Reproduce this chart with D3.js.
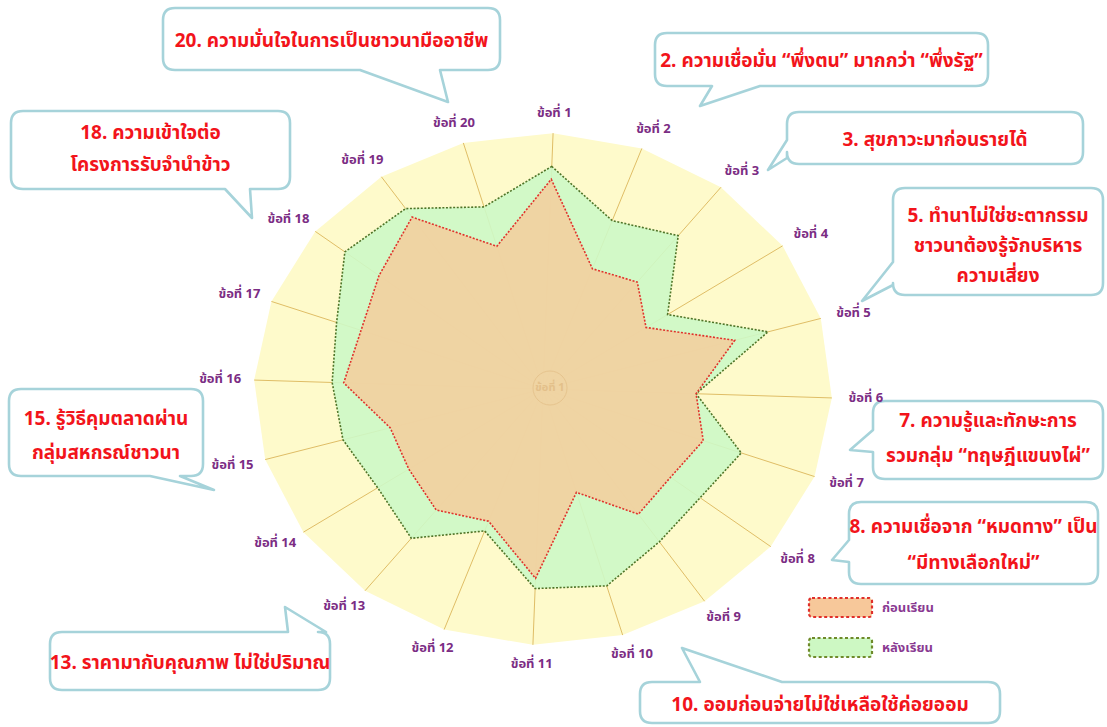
<!DOCTYPE html>
<html>
<head>
<meta charset="utf-8">
<script src="https://cdn.jsdelivr.net/npm/d3@7"></script>
<style>
    body { margin: 0; background: #fff; }
    svg { display: block; }
</style>
</head>
<body>
<svg id="chart"></svg>
<script>
const WIDTH = 1107;
const HEIGHT = 727;
const CENTER_X = 543;
const CENTER_Y = 389;
const RADIUS_X = 289;
const RADIUS_Y = 256;
const ROTATION = (2 * Math.PI) / 180;
const THAI_FONT = "'Noto Sans Thai', 'Loma', 'Garuda', 'Norasi', 'Tahoma', serif";

// one label per axis
const categories = d3.range(1, 21).map((n) => `ข้อที่ ${n}`);

// values, in percent of the outer ring
const beforeValues = [82, 50, 53, 43, 69, 53, 59, 56, 59, 42, 74, 55, 60, 56, 55, 69, 67, 72, 81, 58];
const afterValues = [87, 70, 76, 52, 81, 53, 73, 69, 72, 80, 78, 59, 74, 69, 72, 73, 76, 87, 85, 74];

const seriesNames = ['ก่อนเรียน', 'หลังเรียน'];

const calloutTexts = [
    ['20. ความมั่นใจในการเป็นชาวนามืออาชีพ'],
    ['2. ความเชื่อมั่น “พึ่งตน” มากกว่า “พึ่งรัฐ”'],
    ['3. สุขภาวะมาก่อนรายได้'],
    ['5. ทำนาไม่ใช่ชะตากรรม', 'ชาวนาต้องรู้จักบริหาร', 'ความเสี่ยง'],
    ['7. ความรู้และทักษะการ', 'รวมกลุ่ม “ทฤษฎีแขนงไผ่”'],
    ['8. ความเชื่อจาก “หมดทาง” เป็น', '“มีทางเลือกใหม่”'],
    ['10. ออมก่อนจ่ายไม่ใช่เหลือใช้ค่อยออม'],
    ['13. ราคามากับคุณภาพ ไม่ใช่ปริมาณ'],
    ['15. รู้วิธีคุมตลาดผ่าน', 'กลุ่มสหกรณ์ชาวนา'],
    ['18. ความเข้าใจต่อ', 'โครงการรับจำนำข้าว'],
];

// bubble layout: box, side of the tail, tail base along that side, tail tip
const calloutBoxes = [
    { x0: 163, y0: 8, x1: 500, y1: 70, side: 'bottom', b0: 360, b1: 440, tip: [448, 102], lineY: [42] },
    { x0: 655, y0: 33, x1: 988, y1: 86, side: 'bottom', b0: 712, b1: 760, tip: [700, 106], lineY: [62] },
    { x0: 787, y0: 112, x1: 1083, y1: 164, side: 'left', b0: 140, b1: 158, tip: [768, 170], lineY: [141] },
    { x0: 893, y0: 188, x1: 1103, y1: 295, side: 'left', b0: 262, b1: 285, tip: [862, 301], lineY: [217, 247, 277] },
    { x0: 873, y0: 401, x1: 1103, y1: 479, side: 'left', b0: 430, b1: 452, tip: [850, 450], lineY: [422, 457] },
    { x0: 849, y0: 502, x1: 1098, y1: 584, side: 'left', b0: 540, b1: 562, tip: [832, 560], lineY: [528, 564] },
    { x0: 640, y0: 682, x1: 1000, y1: 723, side: 'top', b0: 700, b1: 782, tip: [682, 648], lineY: [706] },
    { x0: 50, y0: 632, x1: 330, y1: 690, side: 'top', b0: 288, b1: 326, tip: [285, 607], lineY: [664] },
    { x0: 9, y0: 389, x1: 203, y1: 476, side: 'bottom', b0: 150, b1: 180, tip: [214, 490], lineY: [420, 454] },
    { x0: 11, y0: 111, x1: 290, y1: 189, side: 'bottom', b0: 225, b1: 250, tip: [252, 218], lineY: [134, 166] },
];

const svg = d3.select('#chart').attr('width', WIDTH).attr('height', HEIGHT);

const angle = d3
    .scaleLinear()
    .domain([0, categories.length])
    .range([ROTATION, ROTATION + 2 * Math.PI]);

const radius = d3.scaleLinear().domain([0, 100]).range([0, 1]);

const pointX = (i, v) => CENTER_X + radius(v) * RADIUS_X * Math.sin(angle(i));
const pointY = (i, v) => CENTER_Y - radius(v) * RADIUS_Y * Math.cos(angle(i));

const radarLine = d3
    .line()
    .x((d, i) => pointX(i, d))
    .y((d, i) => pointY(i, d))
    .curve(d3.curveLinearClosed);

function drawGrid() {
    const outer = categories.map(() => 100);
    svg.append('path')
        .attr('d', radarLine(outer))
        .attr('fill', '#fefacb');

    svg.append('g')
        .selectAll('line')
        .data(categories)
        .join('line')
        .attr('x1', CENTER_X)
        .attr('y1', CENTER_Y)
        .attr('x2', (d, i) => pointX(i, 100))
        .attr('y2', (d, i) => pointY(i, 100))
        .attr('stroke', '#dfbd66')
        .attr('stroke-width', 1);
}

function drawSeries(values, fill, stroke) {
    svg.append('path')
        .attr('d', radarLine(values))
        .attr('fill', fill)
        .attr('fill-opacity', 0.9)
        .attr('stroke', stroke)
        .attr('stroke-width', 1.6)
        .attr('stroke-dasharray', '2,1.6');
}

function drawAxisLabels() {
    svg.append('g')
        .selectAll('text')
        .data(categories)
        .join('text')
        .attr('x', (d, i) => CENTER_X + (RADIUS_X + 34) * Math.sin(angle(i)))
        .attr('y', (d, i) => CENTER_Y - (RADIUS_Y + 20) * Math.cos(angle(i)))
        .attr('text-anchor', 'middle')
        .attr('dominant-baseline', 'middle')
        .attr('font-family', THAI_FONT)
        .attr('font-weight', 'bold')
        .attr('font-size', 13)
        .attr('fill', '#7b2d84')
        .text((d) => d);

    // faint tag in the middle of the web
    svg.append('circle')
        .attr('cx', CENTER_X + 7)
        .attr('cy', CENTER_Y - 1)
        .attr('r', 17)
        .attr('fill', 'none')
        .attr('stroke', '#e6c48e')
        .attr('stroke-width', 1);
    svg.append('text')
        .attr('x', CENTER_X + 7)
        .attr('y', CENTER_Y - 1)
        .attr('text-anchor', 'middle')
        .attr('dominant-baseline', 'middle')
        .attr('font-family', THAI_FONT)
        .attr('font-weight', 'bold')
        .attr('font-size', 11)
        .attr('fill', '#e3c08a')
        .text(categories[0]);
}

function bubblePath(b) {
    const r = 12;
    const { x0, y0, x1, y1, side, b0, b1, tip } = b;
    const p = d3.path();
    p.moveTo(x0 + r, y0);
    if (side === 'top') {
        p.lineTo(b0, y0);
        p.lineTo(tip[0], tip[1]);
        p.lineTo(b1, y0);
    }
    p.lineTo(x1 - r, y0);
    p.quadraticCurveTo(x1, y0, x1, y0 + r);
    if (side === 'right') {
        p.lineTo(x1, b0);
        p.lineTo(tip[0], tip[1]);
        p.lineTo(x1, b1);
    }
    p.lineTo(x1, y1 - r);
    p.quadraticCurveTo(x1, y1, x1 - r, y1);
    if (side === 'bottom') {
        p.lineTo(b1, y1);
        p.lineTo(tip[0], tip[1]);
        p.lineTo(b0, y1);
    }
    p.lineTo(x0 + r, y1);
    p.quadraticCurveTo(x0, y1, x0, y1 - r);
    if (side === 'left') {
        p.lineTo(x0, b1);
        p.lineTo(tip[0], tip[1]);
        p.lineTo(x0, b0);
    }
    p.lineTo(x0, y0 + r);
    p.quadraticCurveTo(x0, y0, x0 + r, y0);
    p.closePath();
    return p.toString();
}

function drawCallouts() {
    const g = svg.append('g')
        .selectAll('g')
        .data(calloutBoxes)
        .join('g');

    g.append('path')
        .attr('d', bubblePath)
        .attr('fill', '#fff')
        .attr('stroke', '#a6d3da')
        .attr('stroke-width', 2.6)
        .attr('stroke-linejoin', 'round');

    g.each(function (b, k) {
        d3.select(this)
            .selectAll('text')
            .data(calloutTexts[k])
            .join('text')
            .attr('x', (b.x0 + b.x1) / 2)
            .attr('y', (d, j) => b.lineY[j])
            .attr('text-anchor', 'middle')
            .attr('dominant-baseline', 'middle')
            .attr('font-family', THAI_FONT)
            .attr('font-weight', 'bold')
            .attr('font-size', 19)
            .attr('fill', '#f2141b')
            .text((d) => d);
    });
}

function drawLegend() {
    const fills = ['#f7c89a', '#cdf8c3'];
    const strokes = ['#e02f2a', '#6f8a2a'];
    const rowY = d3.scalePoint().domain(seriesNames).range([598, 638]);

    const row = svg.append('g')
        .selectAll('g')
        .data(seriesNames)
        .join('g');

    row.append('rect')
        .attr('x', 809)
        .attr('y', (d) => rowY(d))
        .attr('width', 63)
        .attr('height', 19)
        .attr('rx', 3)
        .attr('fill', (d, i) => fills[i])
        .attr('stroke', (d, i) => strokes[i])
        .attr('stroke-width', 2.2)
        .attr('stroke-dasharray', '3,2.5');

    row.append('text')
        .attr('x', 882)
        .attr('y', (d) => rowY(d) + 10)
        .attr('dominant-baseline', 'middle')
        .attr('font-family', THAI_FONT)
        .attr('font-weight', 'bold')
        .attr('font-size', 13)
        .attr('fill', '#8a3a92')
        .text((d) => d);
}

drawGrid();
drawSeries(afterValues, '#cdf8c6', '#4f7428');
drawSeries(beforeValues, '#f2cf9f', '#e0332c');
drawCallouts();
drawAxisLabels();
drawLegend();
</script>
</body>
</html>
